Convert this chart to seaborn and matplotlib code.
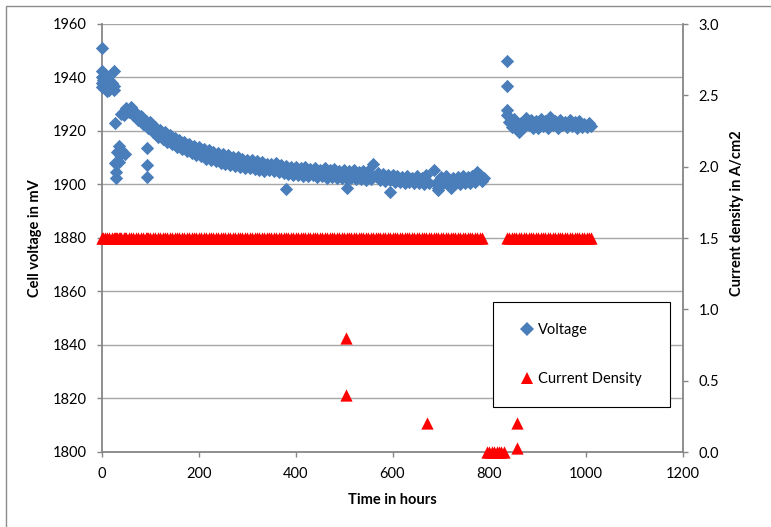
import matplotlib
matplotlib.use("Agg")
import matplotlib.pyplot as plt
import seaborn as sns
import pandas as pd
from matplotlib.lines import Line2D
from matplotlib.patches import Rectangle
from matplotlib.ticker import FormatStrFormatter

# ---------------- data ----------------
# early scattered voltage readings (hours, mV)
early_hours = [0, 0, 0, 0, 0, 3, 3, 7, 7, 7, 10, 10, 10, 15, 15, 15, 20, 20,
               25, 25, 25, 27, 27, 29, 29, 31, 35, 35, 37, 40, 47, 93, 93, 93]
early_volts = [1951, 1942.5, 1940, 1938, 1936.5, 1939, 1937, 1941, 1938, 1936,
               1940, 1937.5, 1935, 1939, 1936, 1935.5, 1938, 1936.5,
               1942.5, 1937, 1935.5, 1923, 1908, 1904.5, 1902.5, 1912,
               1914.5, 1908.5, 1911, 1913, 1911.5, 1913.6, 1907.3, 1902.8]

main_hours = [40, 45, 50, 55, 60, 65, 70, 75, 80, 85, 90, 95, 100, 105, 110, 115,
              120, 125, 130, 135, 140, 145, 150, 155, 160, 165, 170, 175, 180, 185,
              190, 195, 200, 205, 210, 215, 220, 225, 230, 235, 240, 245, 250, 255,
              260, 265, 270, 275, 280, 285, 290, 295, 300, 305, 310, 315, 320, 325,
              330, 335, 340, 345, 350, 355, 360, 365, 370, 375, 380, 385, 390, 395,
              400, 405, 410, 415, 420, 425, 430, 435, 440, 445, 450, 455, 460, 465,
              470, 475, 480, 485, 490, 495, 500, 505, 510, 515, 520, 525, 530, 535,
              540, 545, 550, 555, 560, 565, 570, 575, 580, 585, 590, 595, 600, 605,
              610, 615, 620, 625, 630, 635, 640, 645, 650, 655, 660, 665, 670, 675,
              685, 690, 695, 700, 705, 710, 715, 720, 725, 730, 735, 740, 745, 750,
              755, 760, 765, 770, 775, 780, 785, 790]
main_volts = [1926.2, 1926.0, 1928.5, 1927.0, 1928.8, 1926.0, 1926.8, 1924.0, 1925.5,
              1922.8, 1923.9, 1921.2, 1923.2, 1919.6, 1921.5, 1917.8, 1920.5, 1917.0,
              1919.6, 1916.0, 1918.6, 1915.0, 1917.5, 1914.0, 1916.6, 1913.3, 1915.9,
              1912.4, 1915.2, 1911.7, 1914.5, 1910.9, 1913.9, 1910.5, 1913.3, 1909.7,
              1912.8, 1909.1, 1912.3, 1908.7, 1911.7, 1908.1, 1911.3, 1907.7, 1910.9,
              1907.3, 1910.4, 1906.8, 1910.2, 1906.6, 1909.6, 1906.2, 1909.3, 1906.1,
              1909.0, 1905.8, 1908.6, 1905.4, 1908.4, 1905.2, 1907.8, 1905.4, 1907.6,
              1905.0, 1907.9, 1904.8, 1907.2, 1904.2, 1906.8, 1903.8, 1906.4, 1903.6,
              1906.6, 1903.4, 1906.0, 1903.2, 1906.4, 1903.0, 1905.8, 1903.4, 1906.2,
              1902.8, 1905.6, 1903.0, 1906.0, 1902.6, 1905.4, 1902.8, 1905.8, 1902.4,
              1905.2, 1902.6, 1905.6, 1902.2, 1905.0, 1902.4, 1905.4, 1902.0, 1904.8,
              1902.2, 1905.2, 1901.8, 1905.0, 1902.0, 1907.6, 1903.2, 1904.4, 1901.6,
              1903.8, 1901.4, 1903.6, 1901.6, 1903.4, 1901.0, 1903.0, 1900.8, 1902.8,
              1900.6, 1903.2, 1900.8, 1902.6, 1900.4, 1903.0, 1900.6, 1902.6, 1900.2,
              1903.6, 1900.4, 1905.4, 1900.6, 1898.6, 1902.8, 1900.4, 1903.0, 1900.2,
              1898.6, 1902.6, 1900.4, 1902.8, 1900.2, 1903.0, 1900.6, 1902.8, 1900.4,
              1903.2, 1900.8, 1904.8, 1903.6, 1901.4, 1902.6]

low_hours = [380, 506, 595, 694]
low_volts = [1898.4, 1898.8, 1897.2, 1897.8]

late_hours = [836, 836, 836, 836, 841, 846, 851, 856, 861, 866, 871, 876, 881, 886,
              891, 896, 901, 906, 911, 916, 921, 926, 931, 936, 941, 946, 951, 956,
              961, 966, 971, 976, 981, 986, 991, 996, 1001, 1006, 1011]
late_volts = [1946, 1937, 1928, 1925.8, 1923.2, 1921.6, 1924.4, 1922.0, 1919.6, 1923.0,
              1921.4, 1925.0, 1922.2, 1924.0, 1921.2, 1923.6, 1921.0, 1924.4, 1922.0,
              1923.8, 1921.2, 1925.2, 1922.4, 1923.6, 1921.0, 1924.2, 1922.2, 1923.4,
              1921.4, 1924.0, 1922.0, 1923.2, 1921.0, 1923.6, 1921.6, 1922.8, 1921.4,
              1923.0, 1921.8]

# current density (A/cm2): 1.5 at every logged time while running,
# plus the off-nominal readings
cd_run_value = 1.5
cd_run_hours = [h for h in sorted(set(early_hours + main_hours + late_hours + [680]))
                if h <= 786 or h >= 836]
cd_off_hours = [503, 503, 671, 795, 800, 805, 810, 815, 820, 825, 830, 858, 858]
cd_off_values = [0.8, 0.4, 0.2, 0.0, 0.0, 0.0, 0.0, 0.0, 0.0, 0.0, 0.0, 0.2, 0.03]

v_ticks = [1800, 1820, 1840, 1860, 1880, 1900, 1920, 1940, 1960]
cd_ticks = [0.0, 0.5, 1.0, 1.5, 2.0, 2.5, 3.0]
x_ticks = [0, 200, 400, 600, 800, 1000, 1200]

# ---------------- tables ----------------
volt_df = pd.DataFrame({
    "hours": early_hours + main_hours + low_hours + late_hours,
    "voltage": early_volts + main_volts + low_volts + late_volts,
})
cd_df = pd.DataFrame({
    "hours": cd_run_hours + cd_off_hours,
    "current": [cd_run_value for _ in cd_run_hours] + cd_off_values,
})

BLUE = "#4A7EBB"
RED = "#FF0000"
GRID = "#A6A6A6"
AXIS = "#868686"

sns.set_theme(style="white")
plt.rcParams['font.family'] = ['Lato', 'DejaVu Sans']

W, H = 771, 527
fig = plt.figure(figsize=(W / 100, H / 100), dpi=100)
ax = fig.add_axes([102 / W, 1 - 452 / H, 581 / W, 428 / H])

sns.scatterplot(data=volt_df, x="hours", y="voltage", marker="D", s=46,
                color=BLUE, linewidth=0, ax=ax, legend=False, zorder=3)
ax2 = ax.twinx()
sns.scatterplot(data=cd_df, x="hours", y="current", marker="^", s=78,
                color=RED, linewidth=0, ax=ax2, legend=False, zorder=3)
for a in (ax, ax2):
    for c in a.collections:
        c.set_clip_on(False)

ax.set_xlim(0, 1200)
ax.set_ylim(1800, 1960)
ax.set_xticks(x_ticks)
ax.set_yticks(v_ticks)
ax2.set_ylim(0, 3)
ax2.set_yticks(cd_ticks)
ax2.yaxis.set_major_formatter(FormatStrFormatter("%.1f"))

ax.yaxis.grid(True, color=GRID, linewidth=1.0)
ax.xaxis.grid(False)
ax.set_axisbelow(True)
ax2.grid(False)

for a in (ax, ax2):
    a.spines["top"].set_visible(False)
ax.spines["right"].set_visible(False)
ax2.spines["left"].set_visible(False)
ax2.spines["bottom"].set_visible(False)
for sp in (ax.spines["left"], ax.spines["bottom"], ax2.spines["right"]):
    sp.set_color(AXIS)
    sp.set_linewidth(1.3)

ax.tick_params(axis="both", which="major", direction="out", length=3.6, width=1.0,
               color=AXIS, labelsize=10.5, labelcolor="black", pad=7.5,
               left=True, bottom=True)
ax2.tick_params(axis="y", which="major", direction="out", length=3.6, width=1.0,
                color=AXIS, labelsize=10.5, labelcolor="black", pad=7.5, right=True)

ax.set_xlabel("Time in hours", fontsize=10.5, fontweight="bold", color="black",
              ha="center", va="center")
ax.xaxis.set_label_coords(0.5, (452 - 500) / 428)
ax.set_ylabel("Cell voltage in mV", fontsize=10.5, fontweight="bold", color="black",
              ha="center", va="center")
ax.yaxis.set_label_coords((35 - 102) / 581, 0.5)
ax2.set_ylabel("")
fig.text(737 / W, 1 - 213 / H, "Current density in A/cm2", rotation=90,
         ha="center", va="center", fontsize=10.5, fontweight="bold", color="black")

# legend box and entries
box = Rectangle((493 / W, 1 - 407 / H), 177 / W, 105 / H, transform=fig.transFigure,
                facecolor="white", edgecolor="black", linewidth=0.8, zorder=5)
fig.add_artist(box)
handles = [
    Line2D([], [], marker="D", linestyle="", color=BLUE, markersize=6.8, markeredgewidth=0),
    Line2D([], [], marker="^", linestyle="", color=RED, markersize=8.8, markeredgewidth=0),
]
leg = fig.legend(handles, ["Voltage", "Current Density"], loc="center",
                 bbox_to_anchor=(581.5 / W, 1 - 354.5 / H), bbox_transform=fig.transFigure,
                 frameon=False, fontsize=10.5, labelspacing=2.4, handlelength=0.8,
                 handletextpad=0.35, borderpad=0)
leg.set_zorder(6)
for t in leg.get_texts():
    t.set_color("black")

# chart-area border
border = Rectangle((6 / W, -0.05), 1.2, 1 - 6 / H + 0.05, transform=fig.transFigure,
                   fill=False, edgecolor="#8C8C8C", linewidth=1.0, zorder=0)
fig.add_artist(border)

fig.savefig("out.png", dpi=100)
